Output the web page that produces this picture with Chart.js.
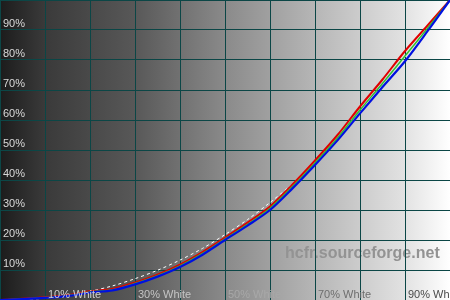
<!DOCTYPE html>
<html>
<head>
<meta charset="utf-8">
<script src="https://cdn.jsdelivr.net/npm/chart.js@4/dist/chart.umd.min.js"></script>
<style>
html,body{margin:0;padding:0;background:#fff;}
#wrap{width:450px;height:300px;position:relative;}
</style>
</head>
<body>
<div id="wrap"><canvas id="c" width="450" height="300"></canvas></div>
<script>
// Input level (% white)
const levels = [0, 5, 10, 15, 20, 25, 30, 35, 40, 45, 50, 55, 60, 65, 70, 75, 80, 85, 90, 95, 100];
const redValues   = [0, 0.4, 0.9, 1.6, 2.9, 3.7, 5.8, 8.4, 11.8, 16.0, 20.8, 25.8, 31.2, 38.5, 46.5, 55.0, 64.5, 73.5, 83.0, 91.5, 100];
const greenValues = [0, 0.3, 0.8, 1.4, 2.7, 3.4, 5.5, 8.1, 11.4, 15.5, 20.4, 25.2, 30.6, 37.8, 45.7, 54.0, 63.3, 72.2, 81.3, 90.6, 100];
const blueValues  = [0, 0.3, 0.7, 1.3, 2.5, 3.2, 5.2, 7.8, 11.0, 15.1, 20.0, 24.8, 30.0, 37.2, 45.0, 53.2, 62.2, 71.0, 79.6, 89.6, 100];
// Reference gamma curve (dashed)
const refValues   = [0, 0.1, 0.6, 1.5, 2.9, 4.7, 7.1, 9.9, 13.3, 17.2, 21.8, 26.8, 32.5, 38.7, 45.6, 53.5, 62.6, 71.8, 81.0, 90.5, 100];

const yTickValues = [10, 20, 30, 40, 50, 60, 70, 80, 90];
const yTickLabels = ['10%', '20%', '30%', '40%', '50%', '60%', '70%', '80%', '90%'];
const xTickValues = [10, 30, 50, 70, 90];
const xTickLabels = ['10% White', '30% White', '50% White', '70% White', '90% White'];
const xTickColors = ['#d0d0d0', '#c4c4c4', '#a8a8a8', '#6e6e6e', '#4a4a4a'];

const toPts = (vals) => levels.map((x, i) => ({x: x, y: vals[i]}));

const bgPlugin = {
  id: 'bg',
  beforeDraw(chart) {
    const {ctx, chartArea: a} = chart;
    ctx.save();
    const g = ctx.createLinearGradient(a.left, 0, a.right, 0);
    g.addColorStop(0, '#1c1c1c');
    g.addColorStop(0.1, '#3a3a3a');
    g.addColorStop(0.3, '#585858');
    g.addColorStop(0.5, '#8a8a8a');
    g.addColorStop(0.7, '#b6b6b6');
    g.addColorStop(0.9, '#e2e2e2');
    g.addColorStop(1, '#ffffff');
    ctx.fillStyle = g;
    ctx.fillRect(a.left, a.top, a.right - a.left, a.bottom - a.top);
    // watermark
    ctx.font = 'bold 16px "Liberation Sans", Arial, sans-serif';
    ctx.fillStyle = '#939393';
    ctx.textBaseline = 'alphabetic';
    ctx.textAlign = 'left';
    ctx.fillText('hcfr.sourceforge.net', 285, 258);
    ctx.restore();
  },
  afterDatasetsDraw(chart) {
    const {ctx, scales} = chart;
    ctx.save();
    ctx.font = '11px "Liberation Sans", Arial, sans-serif';
    ctx.textAlign = 'left';
    ctx.textBaseline = 'alphabetic';
    ctx.fillStyle = '#d8d8d8';
    yTickValues.forEach((v, i) => {
      const py = scales.y.getPixelForValue(v);
      ctx.fillText(yTickLabels[i], scales.x.left + 3, py - 3);
    });
    xTickValues.forEach((v, i) => {
      const px = scales.x.getPixelForValue(v);
      ctx.fillStyle = xTickColors[i];
      ctx.fillText(xTickLabels[i], px + 3, scales.y.bottom - 2);
    });
    ctx.restore();
  }
};

new Chart(document.getElementById('c'), {
  type: 'line',
  data: {
    datasets: [
      {label: 'Blue', data: toPts(blueValues), borderColor: '#0010e0', borderWidth: 2.2, pointRadius: 0, tension: 0.3},
      {label: 'Green', data: toPts(greenValues), borderColor: '#30c030', borderWidth: 1.5, pointRadius: 0, tension: 0.3},
      {label: 'Red', data: toPts(redValues), borderColor: '#e00000', borderWidth: 2, pointRadius: 0, tension: 0.3},
      {label: 'Reference', data: toPts(refValues), borderColor: '#ffffff', borderWidth: 1, borderDash: [3, 3], pointRadius: 0, tension: 0.3}
    ]
  },
  options: {
    responsive: false,
    animation: false,
    devicePixelRatio: 1,
    layout: {padding: 0},
    plugins: {legend: {display: false}, tooltip: {enabled: false}},
    scales: {
      x: {
        type: 'linear', min: 0, max: 100,
        ticks: {display: false, stepSize: 10},
        grid: {color: '#0b4646', lineWidth: 1, drawTicks: false},
        border: {display: false},
        afterFit(s) { s.height = 0; }
      },
      y: {
        type: 'linear', min: 0, max: 100,
        ticks: {display: false, stepSize: 10},
        grid: {color: '#0b4646', lineWidth: 1, drawTicks: false},
        border: {display: false},
        afterFit(s) { s.width = 0; }
      }
    }
  },
  plugins: [bgPlugin]
});
</script>
</body>
</html>
